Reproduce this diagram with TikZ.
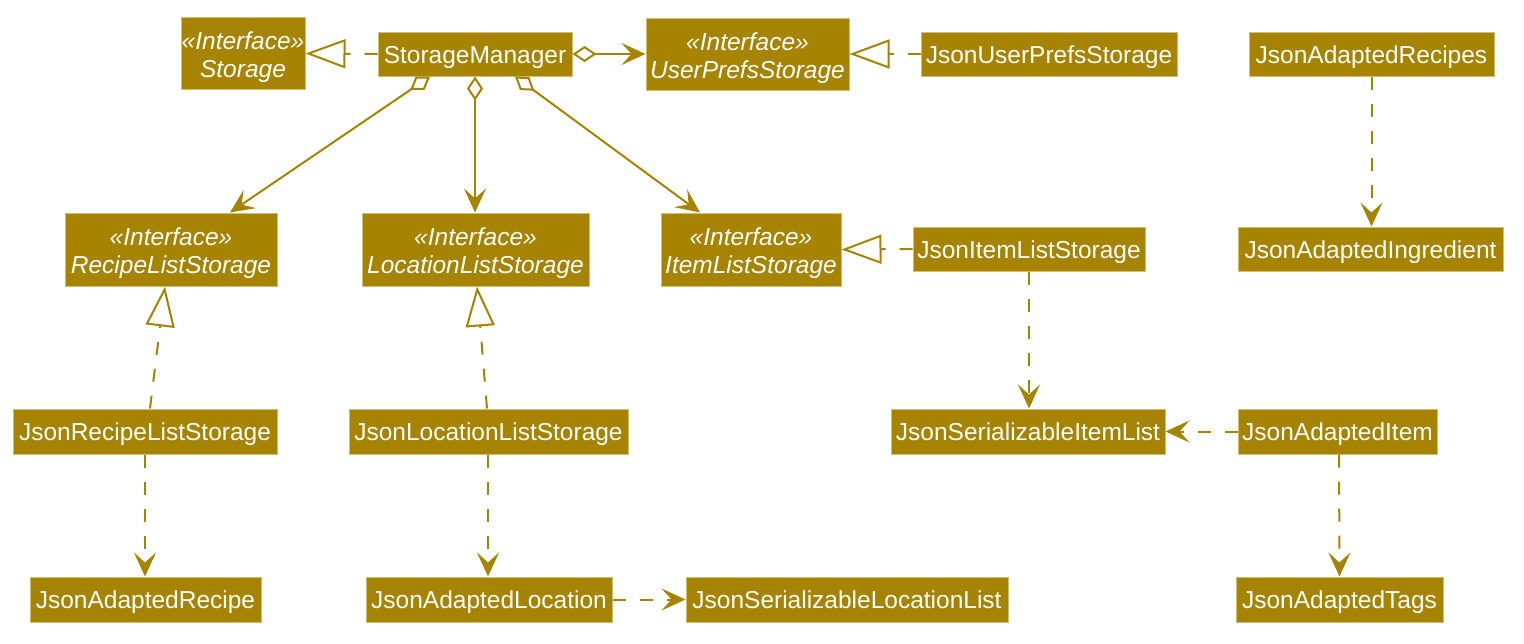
\documentclass[tikz,border=0pt]{standalone}
\usepackage{fontspec}
\setmainfont{Liberation Sans}
\usetikzlibrary{arrows.meta,calc}
\definecolor{umlfill}{RGB}{166,131,0}
\definecolor{umlborder}{RGB}{210,190,110}
\definecolor{umlline}{RGB}{166,131,0}
\newcommand\ifacetext[1]{\rule{0pt}{26pt}«Interface»\\#1}
\begin{document}
\begin{tikzpicture}[x=1pt,y=-1pt,
 cls/.style={draw=umlborder, line width=1pt, fill=umlfill, text=white, inner sep=0pt, align=center, font=\fontsize{24.5}{28}\selectfont},
 iface/.style={cls, font=\fontsize{24.5}{28}\selectfont\itshape, minimum height=72pt},
 plain/.style={cls, minimum height=44pt, text height=22pt, text depth=4pt},
 conn/.style={draw=umlline, line width=2pt},
 dep/.style={conn, dash pattern=on 13pt off 14pt, -{Stealth[length=24pt,width=22pt,inset=10pt]}},
 real/.style={conn, dash pattern=on 13pt off 14pt, -{Triangle[open,length=40pt,width=29pt,fill=white]}},
 agg/.style={conn, {Diamond[open,length=24pt,width=16pt,fill=white]}-{Stealth[length=24pt,width=22pt,inset=10pt]}},
]
\useasboundingbox (0,0) rectangle (1524,643);

% row 1
\node[iface, minimum width=124pt] (storage) at (243,53.5) {\ifacetext{Storage}};
\node[plain, minimum width=194pt] (mgr) at (475,54) {StorageManager};
\node[iface, minimum width=203pt] (uprefs) at (747.5,54) {\ifacetext{UserPrefsStorage}};
\node[plain, minimum width=256pt] (jups) at (1049,54) {JsonUserPrefsStorage};
\node[plain, minimum width=245pt] (jarecipes) at (1371.5,54) {JsonAdaptedRecipes};

% row 2
\node[iface, minimum width=212pt, minimum height=73pt] (rls) at (171,249.5) {\ifacetext{RecipeListStorage}};
\node[iface, minimum width=227pt, minimum height=73pt] (lls) at (475.5,249.5) {\ifacetext{LocationListStorage}};
\node[iface, minimum width=180pt, minimum height=73pt] (ils) at (751,249.5) {\ifacetext{ItemListStorage}};
\node[plain, minimum width=232pt] (jils) at (1029,249) {JsonItemListStorage};
\node[plain, minimum width=265pt] (jaing) at (1370.5,249) {JsonAdaptedIngredient};

% row 3
\node[plain, minimum width=264pt, minimum height=45pt] (jrls) at (145,431.5) {JsonRecipeListStorage};
\node[plain, minimum width=279pt, minimum height=45pt] (jlls) at (488.5,431.5) {JsonLocationListStorage};
\node[plain, minimum width=274pt, minimum height=45pt] (jsil) at (1028,431.5) {JsonSerializableItemList};
\node[plain, minimum width=199pt, minimum height=45pt] (jaitem) at (1337.5,431.5) {JsonAdaptedItem};

% row 4
\node[plain, minimum width=231pt, minimum height=45pt] (jarecipe) at (145.5,599.5) {JsonAdaptedRecipe};
\node[plain, minimum width=246pt, minimum height=45pt] (jaloc) at (489,599.5) {JsonAdaptedLocation};
\node[plain, minimum width=322pt, minimum height=45pt] (jsll) at (847,599.5) {JsonSerializableLocationList};
\node[plain, minimum width=207pt, minimum height=45pt] (jatags) at (1339.5,599.5) {JsonAdaptedTags};

% connectors
\draw[real] (mgr.west) -- (storage.east);
\draw[agg] (mgr.east) -- (uprefs.west);
\draw[real] (jups.west) -- (uprefs.east);

\draw[agg] ($(mgr.south)+(-45,0)$) -- ($(rls.north)+(59,0)$);
\draw[agg] (mgr.south) -- ($(lls.north)+(-0.5,0)$);
\draw[agg] ($(mgr.south)+(40,0)$) -- ($(ils.north)+(-51,0)$);

\draw[real] ($(jrls.north)+(5,0)$) -- ($(rls.south)+(-6,0)$);
\draw[real] ($(jlls.north)+(-1.5,0)$) -- ($(lls.south)+(1.5,0)$);
\draw[real] (jils.west) -- (ils.east);

\draw[dep] (jils.south) -- ($(jsil.north)+(1,0)$);
\draw[dep] (jarecipes.south) -- ($(jaing.north)+(1,0)$);
\draw[dep] (jaitem.west) -- (jsil.east);
\draw[dep] ($(jaitem.south)+(1.5,0)$) -- (jatags.north);
\draw[dep] (jrls.south) -- ($(jarecipe.north)+(-0.5,0)$);
\draw[dep] ($(jlls.south)+(-0.5,0)$) -- ($(jaloc.north)+(-1,0)$);
\draw[dep] (jaloc.east) -- (jsll.west);
\end{tikzpicture}
\end{document}
